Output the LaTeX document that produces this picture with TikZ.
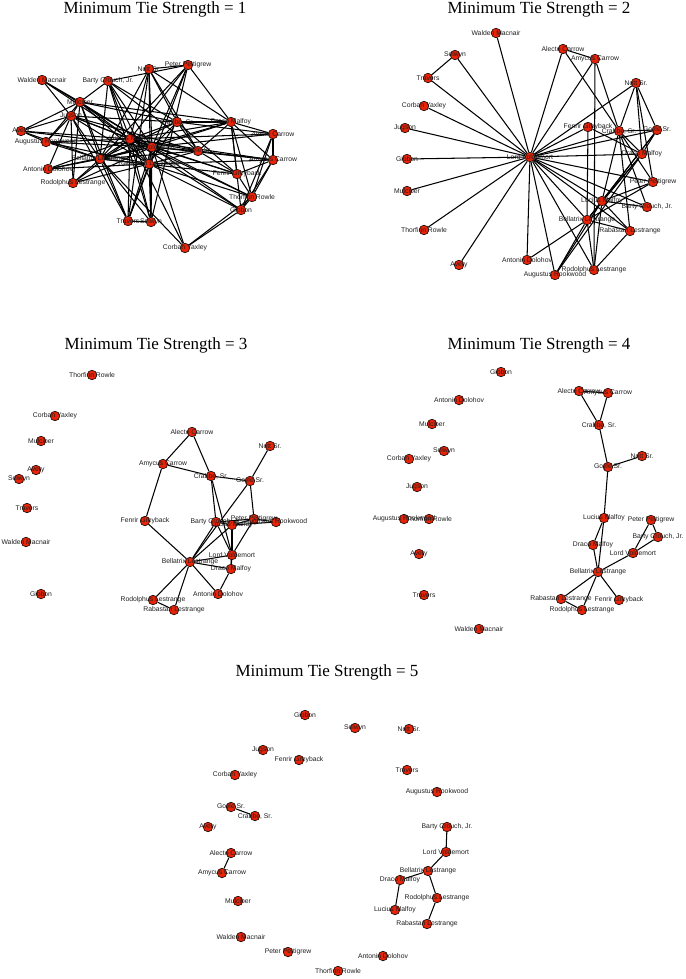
\documentclass[tikz,border=0pt]{standalone}
\usepackage{fontspec}
\setmainfont{Liberation Serif}
\newfontfamily\labfont{Liberation Sans}
\definecolor{nodered}{RGB}{232,36,8}
\definecolor{labgray}{RGB}{30,30,30}
\pgfdeclarelayer{edges}
\pgfdeclarelayer{labels}
\pgfsetlayers{edges,main,labels}
\tikzset{
  vtx/.style={circle,draw=black,fill=nodered,line width=0.55pt,minimum size=9.6pt,inner sep=0pt},
  vlab/.style={font=\labfont\fontsize{6.8}{7}\selectfont,text=labgray,inner sep=0pt},
  edge/.style={line width=1.05pt,black},
  ttl/.style={font=\fontsize{17}{19}\selectfont,inner sep=0pt}
}
\newcommand{\vtxat}[4]{\node[vtx] (#1) at (#2,#3) {};\begin{pgfonlayer}{labels}\node[vlab] (#1t) at (#1.center) {#4};\end{pgfonlayer}}
\begin{document}
\begin{tikzpicture}[x=1pt,y=-1pt]
\useasboundingbox (0,0) rectangle (685,979);
% ---------------- titles
\node[ttl] (t1) at (155,9) {Minimum Tie Strength = 1};
\node[ttl] (t2) at (539,9) {Minimum Tie Strength = 2};
\node[ttl] (t3) at (156,345) {Minimum Tie Strength = 3};
\node[ttl] (t4) at (539,345) {Minimum Tie Strength = 4};
\node[ttl] (t5) at (327,672) {Minimum Tie Strength = 5};
% ---------------- panel 1
\vtxat{aWM}{42}{80}{Walden Macnair}
\vtxat{aBC}{108}{81}{Barty Crouch, Jr.}
\vtxat{aNS}{149}{69}{Nott Sr.}
\vtxat{aPP}{188}{65}{Peter Pettigrew}
\vtxat{aMU}{80}{102}{Mulciber}
\vtxat{aJU}{71}{116}{Jugson}
\vtxat{aAV}{21}{131}{Avery}
\vtxat{aAR}{46}{142}{Augustus Rookwood}
\vtxat{aCS}{177}{122}{Crabbe, Sr.}
\vtxat{aDM}{231}{122}{Draco Malfoy}
\vtxat{aAC}{273}{134}{Alecto Carrow}
\vtxat{aAM}{273}{160}{Amycus Carrow}
\vtxat{aLM}{130}{139}{Lucius Malfoy}
\vtxat{aLV}{152}{147}{Lord Voldemort}
\vtxat{aGS}{198}{151}{Goyle Sr.}
\vtxat{aBL}{100}{159}{Bellatrix Lestrange}
\vtxat{aRL}{149}{164}{Rabastan Lestrange}
\vtxat{aAD}{48}{169}{Antonin Dolohov}
\vtxat{aRO}{73}{183}{Rodolphus Lestrange}
\vtxat{aFG}{237}{174}{Fenrir Greyback}
\vtxat{aTR}{252}{197}{Thorfinn Rowle}
\vtxat{aGI}{241}{210}{Gibbon}
\vtxat{aTV}{128}{221}{Travers}
\vtxat{aSE}{151}{222}{Selwyn}
\vtxat{aCY}{185}{248}{Corban Yaxley}
\begin{pgfonlayer}{edges}
\foreach \u in {WM,BC,NS,PP,MU,JU,AV,AR,CS,DM,AC,AM,LM,GS,BL,RL,AD,RO,FG,TR,GI,TV,SE,CY}
  \draw[edge] (aLV) -- (a\u);
\foreach \u in {WM,BC,NS,PP,MU,JU,AV,AR,AD,RO,CS,DM,AC,AM,GS,FG,TR,GI,TV,SE,CY,BL,RL}
  \draw[edge] (aLM) -- (a\u);
\foreach \u in {JU,MU,AR,AD,RO,CS,DM,GS,PP,BC,NS,TV,SE,CY,FG,RL,AV}
  \draw[edge] (aBL) -- (a\u);
\foreach \u in {RO,AD,AR,JU,MU,TV,SE,GI,TR,AM,CS,GS,BC}
  \draw[edge] (aRL) -- (a\u);
\foreach \u/\w in {SE/TV,AC/AM,AC/TR,AM/TR,AM/GI,AC/GI,DM/FG,DM/TR,DM/CS,DM/GS,CS/GS,CS/NS,GS/NS,NS/PP,PP/BC,BC/MU,BC/CS,BC/GS,CS/MU,JU/MU,JU/AV,MU/AV,WM/MU,WM/JU,AR/JU,AD/JU,RO/JU,RO/MU,TV/JU,TV/MU,SE/BC,CY/GI,CY/TR,GI/TR,FG/TR,FG/AM,GI/DM,NS/TV,PP/TV,PP/SE,NS/SE,CS/AC,GS/AM,DM/AC,AR/AV,AR/MU,CS/JU,GS/JU,DM/MU,DM/NS,PP/DM,CS/FG,GS/FG,DM/AM}
  \draw[edge] (a\u) -- (a\w);
\end{pgfonlayer}
% ---------------- panel 2
\vtxat{bWM}{496}{33}{Walden Macnair}
\vtxat{bSE}{455}{55}{Selwyn}
\vtxat{bTV}{428}{78}{Travers}
\vtxat{bCY}{424}{106}{Corban Yaxley}
\vtxat{bJU}{405}{128}{Jugson}
\vtxat{bGI}{407}{159}{Gibbon}
\vtxat{bMU}{407}{191}{Mulciber}
\vtxat{bTR}{424}{230}{Thorfinn Rowle}
\vtxat{bAV}{459}{265}{Avery}
\vtxat{bLV}{530}{157}{Lord Voldemort}
\vtxat{bAC}{563}{49}{Alecto Carrow}
\vtxat{bAM}{595}{59}{Amycus Carrow}
\vtxat{bNS}{636}{83}{Nott Sr.}
\vtxat{bFG}{588}{127}{Fenrir Greyback}
\vtxat{bCS}{619}{131}{Crabbe, Sr.}
\vtxat{bGS}{657}{130}{Goyle Sr.}
\vtxat{bDM}{642}{154}{Draco Malfoy}
\vtxat{bPP}{653}{182}{Peter Pettigrew}
\vtxat{bLM}{602}{201}{Lucius Malfoy}
\vtxat{bBC}{647}{207}{Barty Crouch, Jr.}
\vtxat{bBL}{587}{220}{Bellatrix Lestrange}
\vtxat{bRL}{630}{231}{Rabastan Lestrange}
\vtxat{bAD}{527}{260}{Antonin Dolohov}
\vtxat{bRO}{594}{270}{Rodolphus Lestrange}
\vtxat{bAR}{555}{275}{Augustus Rookwood}
\begin{pgfonlayer}{edges}
\foreach \u in {WM,SE,TV,CY,JU,GI,MU,TR,AV,AC,AM,NS,FG,CS,GS,DM,PP,LM,BC,BL,RL,AD,RO,AR}
  \draw[edge] (bLV) -- (b\u);
\foreach \u/\w in {SE/TV,AC/AM,AC/CS,AM/RO,AM/CS,FG/BL,FG/DM,NS/CS,NS/GS,NS/DM,NS/PP,CS/GS,CS/DM,CS/LM,CS/BC,CS/RL,CS/PP,GS/DM,GS/LM,GS/BL,DM/LM,DM/BL,DM/AR,PP/LM,PP/BL,LM/BL,LM/BC,LM/RL,LM/RO,LM/AR,BL/RL,BL/RO,BL/AD,BL/AR,RL/RO}
  \draw[edge] (b\u) -- (b\w);
\end{pgfonlayer}
% ---------------- panel 3
\vtxat{cTR}{92}{375}{Thorfinn Rowle}
\vtxat{cCY}{55}{416}{Corban Yaxley}
\vtxat{cMU}{41}{441}{Mulciber}
\vtxat{cAV}{36}{470}{Avery}
\vtxat{cSE}{19}{479}{Selwyn}
\vtxat{cTV}{27}{508}{Travers}
\vtxat{cWM}{26}{542}{Walden Macnair}
\vtxat{cGI}{41}{594}{Gibbon}
\vtxat{cAC}{192}{432}{Alecto Carrow}
\vtxat{cNS}{270}{446}{Nott Sr.}
\vtxat{cAM}{163}{464}{Amycus Carrow}
\vtxat{cCS}{211}{476}{Crabbe, Sr.}
\vtxat{cGS}{250}{481}{Goyle Sr.}
\vtxat{cFG}{145}{521}{Fenrir Greyback}
\vtxat{cBC}{216}{522}{Barty Crouch, Jr.}
\vtxat{cLM}{232}{525}{Lucius Malfoy}
\vtxat{cPP}{254}{519}{Peter Pettigrew}
\vtxat{cAR}{276}{522}{Augustus Rookwood}
\vtxat{cLV}{232}{555}{Lord Voldemort}
\vtxat{cBL}{190}{562}{Bellatrix Lestrange}
\vtxat{cDM}{231}{569}{Draco Malfoy}
\vtxat{cAD}{218}{594}{Antonin Dolohov}
\vtxat{cRO}{153}{600}{Rodolphus Lestrange}
\vtxat{cRL}{174}{610}{Rabastan Lestrange}
\begin{pgfonlayer}{edges}
\foreach \u/\w in {AC/AM,AC/CS,AM/CS,CS/GS,AM/FG,FG/BL,NS/GS,CS/BC,CS/LV,GS/PP,GS/BL,BC/LM,LM/PP,PP/AR,BC/PP,LM/AR,BC/BL,BC/LV,LM/BL,LM/LV,LM/DM,PP/LV,LV/BL,BL/DM,LV/DM,DM/AD,BL/AD,BL/RO,BL/RL,RO/RL}
  \draw[edge] (c\u) -- (c\w);
\end{pgfonlayer}
% ---------------- panel 4
\vtxat{dGI}{501}{372}{Gibbon}
\vtxat{dAD}{459}{400}{Antonin Dolohov}
\vtxat{dMU}{432}{424}{Mulciber}
\vtxat{dSE}{444}{451}{Selwyn}
\vtxat{dCY}{409}{459}{Corban Yaxley}
\vtxat{dJU}{417}{487}{Jugson}
\vtxat{dAR}{404}{519}{Augustus Rookwood}
\vtxat{dTR}{429}{519}{Thorfinn Rowle}
\vtxat{dAV}{419}{554}{Avery}
\vtxat{dTV}{424}{595}{Travers}
\vtxat{dWM}{479}{629}{Walden Macnair}
\vtxat{dAC}{579}{391}{Alecto Carrow}
\vtxat{dAM}{608}{393}{Amycus Carrow}
\vtxat{dCS}{599}{425}{Crabbe, Sr.}
\vtxat{dNS}{642}{456}{Nott Sr.}
\vtxat{dGS}{608}{467}{Goyle Sr.}
\vtxat{dLM}{604}{518}{Lucius Malfoy}
\vtxat{dPP}{651}{520}{Peter Pettigrew}
\vtxat{dBC}{658}{537}{Barty Crouch, Jr.}
\vtxat{dDM}{593}{545}{Draco Malfoy}
\vtxat{dLV}{633}{553}{Lord Voldemort}
\vtxat{dBL}{598}{572}{Bellatrix Lestrange}
\vtxat{dRL}{561}{599}{Rabastan Lestrange}
\vtxat{dFG}{619}{600}{Fenrir Greyback}
\vtxat{dRO}{582}{610}{Rodolphus Lestrange}
\begin{pgfonlayer}{edges}
\foreach \u/\w in {AC/AM,AC/CS,AM/CS,CS/GS,GS/NS,GS/LM,LM/DM,LM/BL,DM/BL,BL/LV,LV/PP,LV/BC,PP/BC,BL/RL,BL/RO,BL/FG,RL/RO}
  \draw[edge] (d\u) -- (d\w);
\end{pgfonlayer}
% ---------------- panel 5
\vtxat{eGI}{305}{715}{Gibbon}
\vtxat{eSE}{355}{728}{Selwyn}
\vtxat{eNS}{409}{729}{Nott Sr.}
\vtxat{eJU}{263}{750}{Jugson}
\vtxat{eFG}{299}{760}{Fenrir Greyback}
\vtxat{eTV}{407}{770}{Travers}
\vtxat{eCY}{235}{775}{Corban Yaxley}
\vtxat{eAR}{437}{792}{Augustus Rookwood}
\vtxat{eGS}{231}{807}{Goyle Sr.}
\vtxat{eCS}{255}{816}{Crabbe, Sr.}
\vtxat{eAV}{208}{827}{Avery}
\vtxat{eBC}{447}{827}{Barty Crouch, Jr.}
\vtxat{eAC}{231}{853}{Alecto Carrow}
\vtxat{eLV}{446}{852}{Lord Voldemort}
\vtxat{eAM}{222}{873}{Amycus Carrow}
\vtxat{eBL}{428}{871}{Bellatrix Lestrange}
\vtxat{eDM}{400}{880}{Draco Malfoy}
\vtxat{eMU}{238}{901}{Mulciber}
\vtxat{eRO}{437}{898}{Rodolphus Lestrange}
\vtxat{eLM}{395}{910}{Lucius Malfoy}
\vtxat{eRL}{427}{924}{Rabastan Lestrange}
\vtxat{eWM}{241}{937}{Walden Macnair}
\vtxat{ePP}{288}{952}{Peter Pettigrew}
\vtxat{eAD}{383}{956}{Antonin Dolohov}
\vtxat{eTR}{338}{971}{Thorfinn Rowle}
\begin{pgfonlayer}{edges}
\foreach \u/\w in {GS/CS,AC/AM,BC/LV,LV/BL,BL/DM,DM/LM,BL/RO,RO/RL}
  \draw[edge] (e\u) -- (e\w);
\end{pgfonlayer}
\end{tikzpicture}
\end{document}
